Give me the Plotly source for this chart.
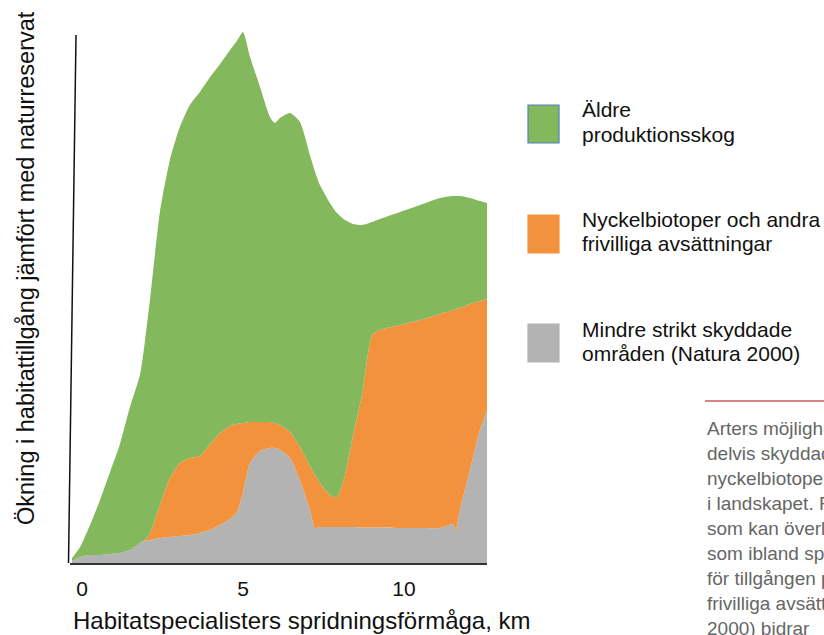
import plotly.graph_objects as go

# Dispersal distance (km)
distance_km = [-0.31, -0.06, 0.25, 0.56, 0.87, 1.18, 1.49, 1.80, 1.96, 2.11,
               2.42, 2.73, 3.04, 3.35, 3.66, 3.98, 4.29, 4.60, 4.81, 5.00,
               5.22, 5.53, 5.84, 5.99, 6.15, 6.46, 6.77, 7.08, 7.24, 7.39,
               7.70, 7.92, 8.17, 8.42, 8.70, 9.01, 9.25, 9.88, 10.50, 11.12,
               11.52, 11.61, 11.74, 12.05, 12.36, 12.58]

# Contribution of each land category (stacked)
natura2000 = [0.4, 1.2, 1.6, 1.6, 1.8, 2.0, 2.6, 4.0, 4.4, 4.6,
              5.0, 5.2, 5.4, 5.6, 6.0, 6.6, 7.6, 8.8, 10.2, 14.0,
              20.0, 22.4, 23.0, 23.0, 22.6, 21.0, 16.6, 10.6, 7.0, 7.2,
              7.2, 7.2, 7.2, 7.2, 7.1, 7.1, 7.1, 7.0, 7.0, 7.0,
              7.8, 6.6, 10.6, 18.6, 26.6, 30.6]

nyckelbiotoper = [0, 0, 0, 0, 0, 0, 0, 0, 0.2, 1.4,
                  6.6, 11.8, 14.6, 15.4, 15.4, 17.2, 18.4, 18.6, 17.6, 14.0,
                  8.2, 5.8, 5.2, 5.0, 5.0, 5.2, 6.6, 8.8, 10.6, 8.8,
                  6.4, 6.0, 10.4, 18.4, 26.5, 38.5, 39.5, 40.6, 41.6, 42.8,
                  42.8, 44.2, 40.4, 33.2, 25.8, 22.2]

aldre_skog = [0.6, 2.0, 6.0, 11.0, 16.4, 21.8, 28.6, 33.6, 40.0, 46.6,
              58.6, 63.6, 67.2, 70.6, 72.8, 73.4, 73.8, 75.2, 76.6, 78.2,
              73.0, 67.0, 61.0, 60.0, 61.4, 63.8, 65.0, 62.2, 60.6, 59.6,
              58.4, 56.8, 51.0, 42.2, 34.0, 22.6, 22.2, 22.6, 23.0, 23.2,
              22.8, 22.6, 22.4, 21.2, 20.0, 19.2]

x_ticks = [0, 5, 10]
x_ticktext = ["0", "5", "10"]

series_names = ["Mindre strikt skyddade|områden (Natura 2000)",
                "Nyckelbiotoper och andra|frivilliga avsättningar",
                "Äldre|produktionsskog"]
series_colors = ["#B3B3B3", "#F3923D", "#83B85C"]

FONT = "Arial, Liberation Sans, sans-serif"

FIG_W, FIG_H = 824, 635
plot_l, plot_r, plot_t, plot_b = 70, 487, 28, 563
pw, ph = plot_r - plot_l, plot_b - plot_t

def px2paper(px, py):
    return (px - plot_l) / pw, (plot_b - py) / ph

fig = go.Figure()
for vals, name, col in zip([natura2000, nyckelbiotoper, aldre_skog], series_names, series_colors):
    fig.add_trace(go.Scatter(
        x=distance_km, y=vals, name=name.replace("|", " "),
        mode="lines", stackgroup="one",
        line=dict(width=0, shape="spline", smoothing=0.6, color=col),
        fillcolor=col, hoverinfo="skip", showlegend=False))

shapes = []
annotations = []

# slanted y-axis line
ax0, ay0 = px2paper(68.5, 563)
ax1, ay1 = px2paper(76, 35)
shapes.append(dict(type="line", xref="paper", yref="paper", x0=ax0, y0=ay0,
                   x1=ax1, y1=ay1, line=dict(color="#111111", width=1.5)))

legend_items = [
    (series_colors[2], "#4F81BD", 105, series_names[2]),
    (series_colors[1], series_colors[1], 215, series_names[1]),
    (series_colors[0], series_colors[0], 324, series_names[0]),
]
for fill, border, top, label in legend_items:
    x0, y1 = px2paper(528, top)
    x1, y0 = px2paper(559, top + 38)
    shapes.append(dict(type="rect", xref="paper", yref="paper",
                       x0=x0, y0=y0, x1=x1, y1=y1, fillcolor=fill,
                       line=dict(color=border, width=1.2)))
    for i, line in enumerate(label.split("|")):
        tx, ty = px2paper(580, top + 5 + 24 * i)
        annotations.append(dict(xref="paper", yref="paper", x=tx, y=ty,
                                text=line, showarrow=False, xanchor="left",
                                yanchor="middle",
                                font=dict(family=FONT, size=21, color="#111111")))

# axis titles
tx, ty = px2paper(302, 620)
annotations.append(dict(xref="paper", yref="paper", x=tx, y=ty,
                        text="Habitatspecialisters spridningsförmåga, km",
                        showarrow=False, xanchor="center", yanchor="middle",
                        font=dict(family=FONT, size=24, color="#111111")))
tx, ty = px2paper(26, 268)
annotations.append(dict(xref="paper", yref="paper", x=tx, y=ty,
                        text="Ökning i habitattillgång jämfört med naturreservat",
                        showarrow=False, textangle=-90, xanchor="center", yanchor="middle",
                        font=dict(family=FONT, size=23.5, color="#111111")))

# side text block (cut at the page edge)
side_lines = ["Arters möjligheter", "delvis skyddade", "nyckelbiotoper",
              "i landskapet. För", "som kan överleva", "som ibland sprids",
              "för tillgången på", "frivilliga avsättningar", "2000) bidrar"]
x0, y0 = px2paper(705, 401)
x1, _ = px2paper(840, 401)
shapes.append(dict(type="line", xref="paper", yref="paper", x0=x0, y0=y0, x1=x1, y1=y0,
                   line=dict(color="#CF5B5B", width=1.5)))
for i, line in enumerate(side_lines):
    tx, ty = px2paper(705, 428 + 25.1 * i)
    annotations.append(dict(xref="paper", yref="paper", x=tx, y=ty, text=line,
                            showarrow=False, xanchor="left", yanchor="middle",
                            font=dict(family=FONT, size=19, color="#666666")))

fig.update_layout(
    width=FIG_W, height=FIG_H,
    margin=dict(l=plot_l, r=FIG_W - plot_r, t=plot_t, b=FIG_H - plot_b),
    paper_bgcolor="white", plot_bgcolor="white",
    showlegend=False, hovermode=False,
    xaxis=dict(range=[-0.373, 12.58], showgrid=False, zeroline=False,
               showline=True, linecolor="#333333", linewidth=2,
               tickvals=x_ticks, ticktext=x_ticktext, ticks="",
               ticklabelstandoff=6, fixedrange=True,
               tickfont=dict(family=FONT, size=21, color="#111111")),
    yaxis=dict(range=[0, 107], showgrid=False, zeroline=False, showline=False,
               showticklabels=False, ticks="", fixedrange=True),
    shapes=shapes, annotations=annotations,
)

fig.write_html("out.html",
               config={"displayModeBar": False, "staticPlot": True},
               post_script="document.body.style.margin='0';"
                           "document.body.style.overflow='hidden';")
